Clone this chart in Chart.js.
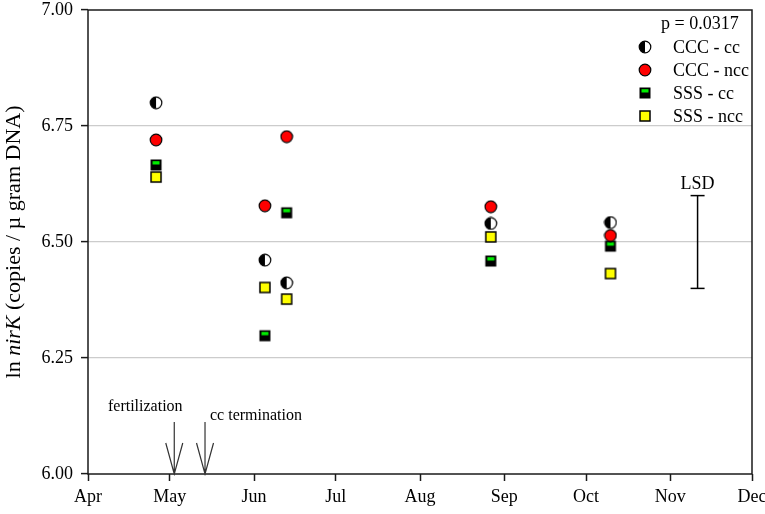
<!DOCTYPE html>
<html>
<head>
<meta charset="utf-8">
<script src="https://cdn.jsdelivr.net/npm/chart.js@4.4.1/dist/chart.umd.min.js"></script>
<style>
  html, body { margin: 0; padding: 0; background: #fff; }
  #wrap { width: 765px; height: 514px; }
</style>
</head>
<body>
<div id="wrap"><canvas id="nirk"></canvas></div>
<script>
// x axis: day of year, ticks at the first of each month
var monthDays = [91, 121, 152, 182, 213, 244, 274, 305, 335];
var monthLabels = ["Apr", "May", "Jun", "Jul", "Aug", "Sep", "Oct", "Nov", "Dec"];
var yTicks = [6.00, 6.25, 6.50, 6.75, 7.00];

// sampling dates (day of year) and ln nirK values
var sampleDays = [116, 156, 164, 239, 283];
var cccCc  = [6.800, 6.461, 6.412, 6.540, 6.542];
var cccNcc = [6.720, 6.578, 6.727, 6.576, 6.514];
var sssCc  = [6.666, 6.298, 6.563, 6.459, 6.491];
var sssNcc = [6.640, 6.402, 6.377, 6.511, 6.432];
var seriesLabels = ["CCC - cc", "CCC - ncc", "SSS - cc", "SSS - ncc"];
var pValueText = "p = 0.0317";

var lsdDay = 315;
var lsdRange = [6.40, 6.60];

var eventDays = [122.7, 134];
var eventLabels = ["fertilization", "cc termination"];

var serif = "'Liberation Serif', 'Times New Roman', serif";
Chart.defaults.font.family = serif;
Chart.defaults.color = "#000";

function makeMarker(kind) {
    var c = document.createElement("canvas");
    c.width = 14; c.height = 14;
    var g = c.getContext("2d");
    g.lineWidth = 1.2;
    g.strokeStyle = "#000";
    if (kind == "half") {
        g.beginPath(); g.arc(7, 7, 5.8, 0, Math.PI * 2); g.fillStyle = "#fff"; g.fill();
        g.beginPath(); g.arc(7, 7, 5.8, Math.PI / 2, Math.PI * 3 / 2); g.closePath(); g.fillStyle = "#000"; g.fill();
        g.beginPath(); g.arc(7, 7, 5.8, 0, Math.PI * 2); g.stroke();
    } else if (kind == "red") {
        g.beginPath(); g.arc(7, 7, 5.8, 0, Math.PI * 2); g.fillStyle = "#ff0000"; g.fill(); g.stroke();
    } else if (kind == "green") {
        g.fillStyle = "#000"; g.fillRect(1.5, 1.5, 11, 11);
        g.fillStyle = "#00ee00"; g.fillRect(3.5, 3.2, 7, 3.3);
    } else {
        g.fillStyle = "#ffff00"; g.fillRect(2, 2, 10, 10);
        g.lineWidth = 1.5; g.strokeRect(2, 2, 10, 10);
    }
    return c;
}

var markers = [makeMarker("half"), makeMarker("red"), makeMarker("green"), makeMarker("yellow")];
var seriesValues = [cccCc, cccNcc, sssCc, sssNcc];
var drawOrder = [1, 0, 2, 3];

function toPoints(values) {
    return values.map(function(v, i) { return { x: sampleDays[i], y: v }; });
}

var datasets = seriesLabels.map(function(lab, i) {
    return {
        label: lab,
        data: toPoints(seriesValues[i]),
        showLine: false,
        pointStyle: markers[i],
        pointRadius: 7,
        order: drawOrder[i]
    };
});
datasets.push({
    label: "LSD",
    data: [{ x: lsdDay, y: lsdRange[0] }, { x: lsdDay, y: lsdRange[1] }],
    showLine: true,
    borderColor: "#000",
    borderWidth: 1.5,
    pointStyle: "line",
    pointRadius: 7,
    pointBorderColor: "#000",
    pointBorderWidth: 1.5,
    order: 4
});

var extras = {
    id: "extras",
    beforeDatasetsDraw: function(chart) {
        var ctx = chart.ctx, a = chart.chartArea;
        ctx.save();
        ctx.strokeStyle = "#1a1a1a";
        ctx.lineWidth = 1.5;
        ctx.strokeRect(a.left, a.top, a.right - a.left, a.bottom - a.top);
        ctx.restore();
    },
    afterDraw: function(chart) {
        var ctx = chart.ctx, a = chart.chartArea;
        var xs = chart.scales.x, ys = chart.scales.y;
        ctx.save();

        // event arrows
        ctx.strokeStyle = "#333";
        ctx.lineWidth = 1.2;
        ctx.fillStyle = "#000";
        ctx.font = "16px " + serif;
        ctx.textBaseline = "alphabetic";
        eventDays.forEach(function(d, i) {
            var x = xs.getPixelForValue(d);
            var tip = ys.getPixelForValue(6.0);
            var top = ys.getPixelForValue(6.112);
            ctx.beginPath();
            ctx.moveTo(x, top); ctx.lineTo(x, tip);
            ctx.moveTo(x - 8.5, tip - 31); ctx.lineTo(x, tip); ctx.lineTo(x + 8.5, tip - 31);
            ctx.stroke();
            if (i == 0) {
                ctx.textAlign = "center";
                ctx.fillText(eventLabels[i], x - 29, top - 11);
            } else {
                ctx.textAlign = "left";
                ctx.fillText(eventLabels[i], x + 5, top - 2);
            }
        });

        // LSD label
        ctx.font = "18px " + serif;
        ctx.textAlign = "center";
        ctx.fillText("LSD", xs.getPixelForValue(lsdDay), ys.getPixelForValue(lsdRange[1]) - 7);

        // legend
        ctx.textAlign = "left";
        ctx.textBaseline = "middle";
        ctx.fillText(pValueText, 661, 24);
        seriesLabels.forEach(function(lab, i) {
            var y = 47 + 23 * i;
            var m = markers[i];
            ctx.drawImage(m, 645 - m.width / 2, y - m.height / 2);
            ctx.fillText(lab, 673, y + 1);
        });

        // y axis title with italic gene name
        var parts = [["ln ", "normal"], ["nirK", "italic"], [" (copies / \u00b5 gram DNA)", "normal"]];
        var total = 0;
        parts.forEach(function(p) {
            ctx.font = p[1] + " 22px " + serif;
            total += ctx.measureText(p[0]).width;
        });
        ctx.translate(14, (a.top + a.bottom) / 2);
        ctx.rotate(-Math.PI / 2);
        var pos = -total / 2;
        parts.forEach(function(p) {
            ctx.font = p[1] + " 22px " + serif;
            ctx.fillText(p[0], pos, 0);
            pos += ctx.measureText(p[0]).width;
        });
        ctx.restore();
    }
};

var ctxNirk = document.getElementById("nirk").getContext("2d");
window.NirkChart = new Chart(ctxNirk, {
    type: "scatter",
    data: { datasets: datasets },
    plugins: [extras],
    options: {
        responsive: true,
        maintainAspectRatio: false,
        animation: false,
        events: [],
        layout: { padding: { top: 10, right: 13, left: 0, bottom: 0 } },
        plugins: {
            legend: { display: false },
            tooltip: { enabled: false }
        },
        scales: {
            x: {
                type: "linear",
                min: monthDays[0],
                max: monthDays[monthDays.length - 1],
                afterBuildTicks: function(scale) {
                    scale.ticks = monthDays.map(function(v) { return { value: v }; });
                },
                afterFit: function(scale) {
                    scale.height = 40;
                    scale.paddingLeft = 0;
                    scale.paddingRight = 0;
                },
                border: { display: false },
                grid: { drawOnChartArea: false, drawTicks: true, tickLength: 7, tickColor: "#1a1a1a", tickWidth: 1.5 },
                ticks: {
                    autoSkip: false,
                    maxRotation: 0,
                    padding: 5,
                    font: { size: 18 },
                    callback: function(v) { return monthLabels[monthDays.indexOf(v)]; }
                }
            },
            y: {
                min: 6,
                max: 7,
                afterBuildTicks: function(scale) {
                    scale.ticks = yTicks.map(function(v) { return { value: v }; });
                },
                afterFit: function(scale) {
                    scale.width = 88;
                    scale.paddingTop = 0;
                    scale.paddingBottom = 0;
                },
                border: { display: false },
                grid: {
                    color: function(c) {
                        var v = c.tick ? c.tick.value : 0;
                        return (v > 6.01 && v < 6.99) ? "#cccccc" : "rgba(0,0,0,0)";
                    },
                    lineWidth: 1.2,
                    tickLength: 7,
                    tickColor: "#1a1a1a",
                    tickWidth: 1.5
                },
                ticks: {
                    padding: 8,
                    font: { size: 18 },
                    callback: function(v) { return Number(v).toFixed(2); }
                }
            }
        }
    }
});
</script>
</body>
</html>
